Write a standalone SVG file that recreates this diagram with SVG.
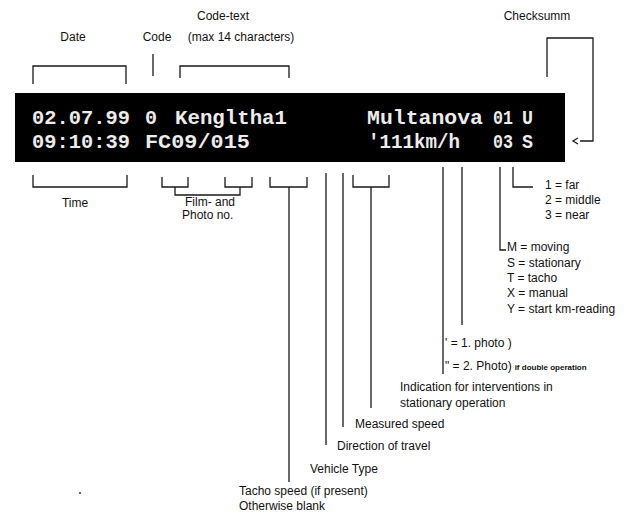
<svg xmlns="http://www.w3.org/2000/svg" width="637" height="512" viewBox="0 0 637 512">
<style>
.t{font-family:"Liberation Sans",Arial,sans-serif;font-size:12px;fill:#111}
.s{font-family:"Liberation Sans",Arial,sans-serif;font-size:8px;font-weight:bold;fill:#111}
.m{font-family:"Liberation Mono","DejaVu Sans Mono",monospace;font-size:21px;font-weight:bold;fill:#ececec}
.ln{fill:none;stroke:#1a1a1a;stroke-width:1.3}
</style>
<defs>
<marker id="chev" markerWidth="8" markerHeight="8" refX="-1" refY="4" orient="auto" markerUnits="userSpaceOnUse" overflow="visible">
<path d="M1,1 L6,4 L1,7" fill="none" stroke="#1a1a1a" stroke-width="1.3"/>
</marker>
</defs>
<rect width="637" height="512" fill="#fff"/>

<g id="display">
<rect x="15" y="93" width="550" height="69" fill="#000"/>
<text class="m" x="32" y="124" textLength="98" lengthAdjust="spacingAndGlyphs">02.07.99</text>
<text class="m" x="145" y="124" textLength="12" lengthAdjust="spacingAndGlyphs">0</text>
<text class="m" x="175" y="124" textLength="112" lengthAdjust="spacingAndGlyphs">Kengltha1</text>
<text class="m" x="367" y="124" textLength="116" lengthAdjust="spacingAndGlyphs">Multanova</text>
<text class="m" x="493" y="124" textLength="20" lengthAdjust="spacingAndGlyphs">01</text>
<text class="m" x="522" y="124" textLength="11" lengthAdjust="spacingAndGlyphs">U</text>
<text class="m" x="32" y="148" textLength="98" lengthAdjust="spacingAndGlyphs">09:10:39</text>
<text class="m" x="145" y="148" textLength="105" lengthAdjust="spacingAndGlyphs">FC09/015</text>
<text class="m" x="368" y="148" textLength="92" lengthAdjust="spacingAndGlyphs">'111km/h</text>
<text class="m" x="493" y="148" textLength="20" lengthAdjust="spacingAndGlyphs">03</text>
<text class="m" x="522" y="148" textLength="11" lengthAdjust="spacingAndGlyphs">S</text>
</g>

<g id="labels-top">
<text class="t" x="223" y="20" text-anchor="middle">Code-text</text>
<text class="t" x="73" y="41" text-anchor="middle">Date</text>
<text class="t" x="157" y="41" text-anchor="middle">Code</text>
<text class="t" x="241" y="41" text-anchor="middle">(max 14 characters)</text>
<text class="t" x="537" y="20" text-anchor="middle">Checksumm</text>
</g>

<g id="labels-bottom">
<text class="t" x="75" y="207" text-anchor="middle">Time</text>
<text class="t" x="185" y="206">Film- and<tspan x="182" dy="13">Photo no.</tspan></text>
<text class="t" x="545" y="189">1 = far</text>
<text class="t" x="545" y="204">2 = middle</text>
<text class="t" x="545" y="219">3 = near</text>
<text class="t" x="507" y="251">M = moving</text>
<text class="t" x="507" y="267">S = stationary</text>
<text class="t" x="507" y="282">T = tacho</text>
<text class="t" x="507" y="297">X = manual</text>
<text class="t" x="507" y="313">Y = start km-reading</text>
<text class="t" x="445" y="347">' = 1. photo )</text>
<text class="t" x="445" y="370">" = 2. Photo)<tspan class="s" dx="3">if double operation</tspan></text>
<text class="t" x="400" y="391">Indication for interventions in</text>
<text class="t" x="400" y="407">stationary operation</text>
<text class="t" x="355" y="428">Measured speed</text>
<text class="t" x="337" y="450">Direction of travel</text>
<text class="t" x="310" y="473">Vehicle Type</text>
<text class="t" x="239" y="495">Tacho speed (if present)</text>
<text class="t" x="239" y="510">Otherwise blank</text>
</g>

<g id="connectors">
<path class="ln" d="M33,84 V66 H126 V84"/>
<path class="ln" d="M153,54 V76"/>
<path class="ln" d="M180,78 V66 H289 V78"/>
<path class="ln" d="M547,77 V38 H593 V141 H580" marker-end="url(#chev)"/>
<path class="ln" d="M33,175 V187 H127 V175"/>
<path class="ln" d="M162,177 V187 H188 V177"/>
<path class="ln" d="M225,177 V187 H252 V177"/>
<path class="ln" d="M175,187 V195 H240 V187"/>
<path class="ln" d="M270,177 V187 H307 V177 M289,187 V482"/>
<path class="ln" d="M326,173 V445"/>
<path class="ln" d="M343,173 V427"/>
<path class="ln" d="M353,175 V187 H389 V175 M371,187 V408"/>
<path class="ln" d="M443,167 V374"/>
<path class="ln" d="M462,167 V325"/>
<path class="ln" d="M500,167 V250 H506"/>
<path class="ln" d="M513,167 V187 H533"/>
</g>
<circle cx="80" cy="493" r="1" fill="#333"/>
</svg>
